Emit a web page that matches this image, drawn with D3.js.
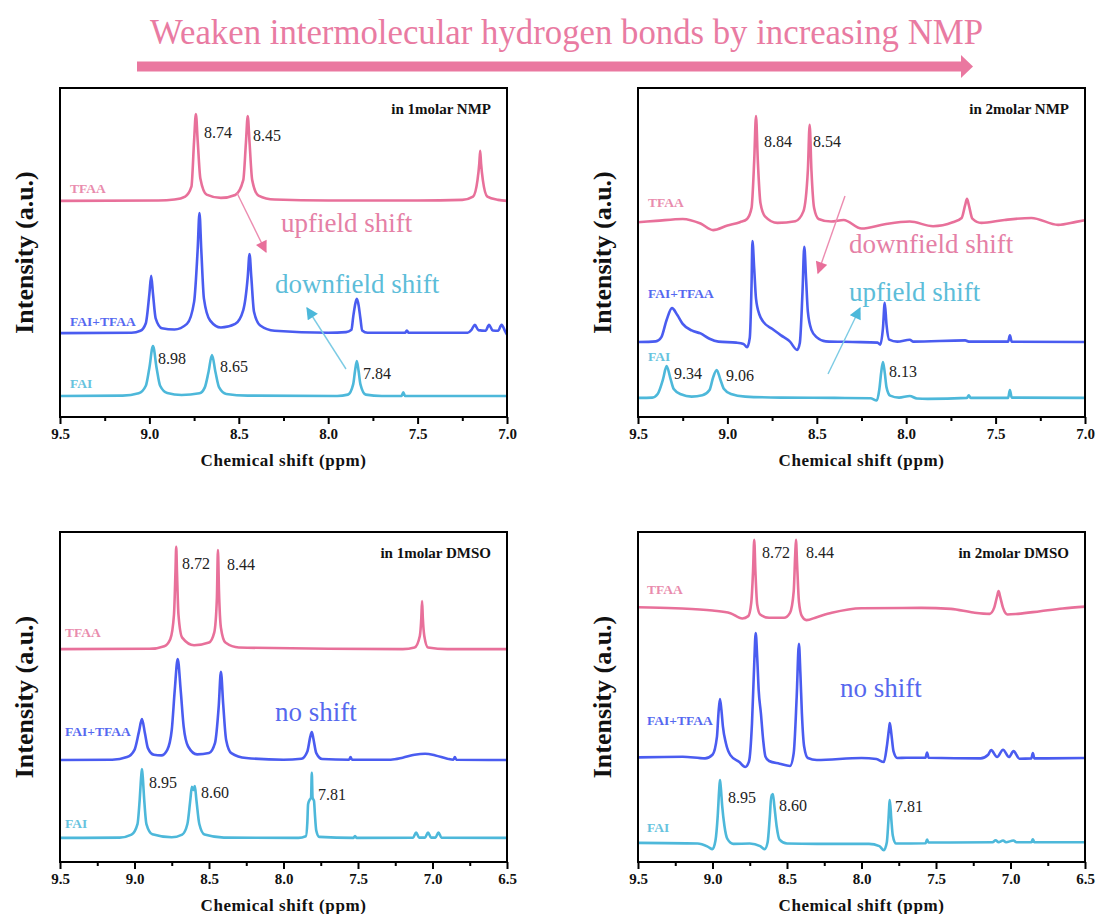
<!DOCTYPE html>
<html>
<head>
<meta charset="utf-8">
<script src="https://cdn.jsdelivr.net/npm/d3@7"></script>
<style>
  body { margin: 0; background: #fff; }
  svg { display: block; }
  text { font-family: "Liberation Serif", "Times New Roman", serif; }
</style>
</head>
<body>
<svg id="fig" width="1097" height="914"></svg>
<script>
// ---- data (ppm, intensity a.u. incl. stacking offset) ----
var seriesNames = ['TFAA', 'FAI+TFAA', 'FAI'];
var panelTitles = ['in 1molar NMP', 'in 2molar NMP', 'in 1molar DMSO', 'in 2molar DMSO'];
var titleText = 'Weaken intermolecular hydrogen bonds by increasing NMP';

var ticksNMP = [9.5, 9.0, 8.5, 8.0, 7.5, 7.0];
var minorNMP = [9.25, 8.75, 8.25, 7.75, 7.25];
var ticksDMSO = [9.5, 9.0, 8.5, 8.0, 7.5, 7.0, 6.5];
var minorDMSO = [9.25, 8.75, 8.25, 7.75, 7.25, 6.75];

// 1 molar NMP
var nmp1TFAA = [[9.5,65.7],[8.95,65.8],[8.86,66.1],[8.80,67.0],[8.765,70.0],[8.75,84.0],[8.74,92.1],[8.73,84.0],[8.715,72.5],[8.68,67.6],[8.60,66.6],[8.52,67.5],[8.475,72.0],[8.46,83.5],[8.45,91.5],[8.44,83.5],[8.425,72.0],[8.39,67.3],[8.30,66.1],[8.0,65.8],[7.5,65.8],[7.25,66.0],[7.19,67.0],[7.165,72.0],[7.155,77.0],[7.15,80.9],[7.145,77.0],[7.135,72.0],[7.11,67.0],[7.05,66.0],[7.0,65.7]];
var nmp1Mix = [[9.5,25.5],[9.1,25.6],[9.05,26.2],[9.02,28.5],[9.0,37.5],[8.99,42.9],[8.98,37.5],[8.965,30.0],[8.93,27.0],[8.86,26.6],[8.79,28.3],[8.75,35.0],[8.73,51.0],[8.72,62.0],[8.71,51.0],[8.695,36.0],[8.66,29.3],[8.60,27.2],[8.52,28.3],[8.475,32.5],[8.45,42.5],[8.44,49.5],[8.43,42.5],[8.415,32.0],[8.38,27.8],[8.30,26.2],[8.0,25.6],[7.9,25.8],[7.87,26.5],[7.86,30.5],[7.85,34.0],[7.84,35.9],[7.83,34.0],[7.82,30.0],[7.81,26.3],[7.78,25.6],[7.57,25.6],[7.56,26.3],[7.55,25.6],[7.22,25.6],[7.20,26.4],[7.18,28.0],[7.16,26.4],[7.12,26.2],[7.10,28.0],[7.08,26.3],[7.05,26.2],[7.03,28.0],[7.01,26.0],[7.0,25.0]];
var nmp1FAI = [[9.5,6.4],[9.15,6.5],[9.06,7.2],[9.02,9.5],[9.0,15.0],[8.98,21.6],[8.96,15.0],[8.94,9.5],[8.9,7.3],[8.82,6.7],[8.72,7.2],[8.69,9.0],[8.67,13.5],[8.65,18.8],[8.63,13.5],[8.61,9.0],[8.57,7.0],[8.45,6.5],[7.95,6.4],[7.89,6.8],[7.86,10.0],[7.85,14.0],[7.84,17.0],[7.83,14.0],[7.82,10.0],[7.79,6.8],[7.7,6.4],[7.59,6.4],[7.58,7.5],[7.57,6.4],[7.0,6.4]];

// 2 molar NMP
var nmp2TFAA = [[9.5,59.2],[9.4,59.6],[9.25,60.2],[9.15,58.8],[9.08,56.8],[9.0,58.2],[8.93,59.2],[8.89,60.2],[8.865,63.5],[8.85,78],[8.84,91.5],[8.83,78],[8.815,65],[8.79,61],[8.72,59.0],[8.62,59.5],[8.575,62.5],[8.55,75],[8.54,88.8],[8.53,75],[8.515,63.5],[8.49,60.2],[8.42,59.4],[8.35,59.9],[8.25,57.3],[8.12,58.6],[7.98,59.4],[7.85,58.0],[7.74,59.2],[7.69,60.5],[7.67,64.5],[7.66,66.3],[7.65,64.5],[7.63,60.3],[7.58,59.0],[7.45,59.9],[7.30,60.5],[7.15,58.4],[7.05,59.3],[7.0,59.8]];
var nmp2Mix = [[9.5,22.8],[9.40,23.0],[9.37,24.2],[9.34,29.5],[9.31,33.1],[9.28,31.0],[9.25,28.3],[9.20,26.3],[9.15,25.4],[9.10,23.8],[9.05,22.9],[8.95,22.6],[8.91,22.2],[8.89,21.2],[8.875,24],[8.865,40],[8.86,53.5],[8.85,45],[8.84,36],[8.82,31],[8.80,29],[8.75,26.8],[8.70,24.8],[8.65,22.9],[8.61,20.4],[8.595,22.5],[8.58,38],[8.57,51.7],[8.56,42],[8.55,32],[8.53,26.5],[8.50,24.2],[8.45,23.0],[8.30,22.8],[8.16,22.6],[8.145,22.0],[8.13,27],[8.12,34.7],[8.11,28],[8.095,23.5],[8.05,22.9],[7.98,23.5],[7.96,22.9],[7.67,23.3],[7.65,22.9],[7.43,22.9],[7.42,24.8],[7.41,22.9],[7.0,22.8]];
var nmp2FAI = [[9.5,5.8],[9.42,5.9],[9.39,7.0],[9.36,11.5],[9.34,15.5],[9.32,12.0],[9.30,8.5],[9.26,6.9],[9.2,6.2],[9.14,6.6],[9.10,8.2],[9.08,12.0],[9.06,14.3],[9.04,11.5],[9.02,8.6],[8.98,7.0],[8.9,6.2],[8.7,5.9],[8.4,5.8],[8.2,5.7],[8.165,5.0],[8.15,8.5],[8.14,13.5],[8.13,16.7],[8.12,13.5],[8.11,9.0],[8.09,6.5],[8.04,5.9],[7.98,6.4],[7.94,5.6],[7.88,5.5],[7.66,5.8],[7.65,6.6],[7.64,5.8],[7.43,5.8],[7.42,8.2],[7.41,5.9],[7.0,5.8]];

// 1 molar DMSO
var dmso1TFAA = [[9.5,64.5],[8.9,64.6],[8.80,65.4],[8.76,67.5],[8.735,75],[8.725,88],[8.72,95.5],[8.715,88],[8.705,75],[8.68,68],[8.6,65.7],[8.5,66.5],[8.465,69.5],[8.447,80],[8.44,94.5],[8.433,82],[8.42,71],[8.39,66.5],[8.30,65.0],[7.2,64.5],[7.12,65.0],[7.085,68.5],[7.075,74],[7.07,79.1],[7.065,74],[7.055,68.5],[7.03,65.0],[6.9,64.5],[6.5,64.5]];
var dmso1Mix = [[9.5,30.9],[9.15,31.0],[9.05,31.8],[9.0,34.0],[8.97,39.5],[8.95,43.3],[8.93,39.0],[8.91,34.5],[8.87,32.5],[8.82,32.3],[8.78,34.0],[8.75,40.0],[8.73,52.0],[8.71,61.5],[8.69,52.0],[8.67,41.0],[8.64,35.0],[8.58,32.6],[8.5,33.0],[8.46,36.0],[8.435,47.0],[8.42,57.6],[8.405,48.0],[8.385,37.0],[8.35,33.0],[8.25,31.5],[8.0,31.0],[7.88,31.3],[7.84,33.5],[7.82,38.0],[7.81,39.4],[7.80,37.5],[7.78,33.0],[7.74,31.2],[7.56,31.0],[7.55,31.8],[7.54,31.0],[7.28,31.0],[7.2,31.6],[7.12,32.5],[7.05,32.8],[6.98,32.3],[6.9,31.3],[6.86,31.0],[6.85,31.8],[6.84,31.0],[6.5,30.9]];
var dmso1FAI = [[9.5,7.3],[9.1,7.4],[9.02,8.3],[8.98,11.5],[8.965,19.0],[8.955,26.0],[8.95,28.2],[8.945,26.0],[8.935,19.0],[8.92,11.5],[8.88,8.4],[8.75,7.5],[8.68,8.3],[8.645,11.5],[8.625,19.0],[8.615,22.8],[8.605,21.8],[8.595,23.0],[8.585,19.0],[8.565,11.5],[8.53,8.3],[8.4,7.4],[7.9,7.3],[7.85,7.8],[7.84,12.0],[7.835,17.5],[7.825,18.8],[7.815,19.5],[7.81,27.0],[7.805,19.5],[7.795,18.5],[7.79,15.0],[7.78,9.5],[7.76,7.6],[7.53,7.3],[7.52,7.9],[7.51,7.3],[7.13,7.4],[7.11,8.9],[7.09,7.4],[7.05,7.4],[7.03,8.9],[7.01,7.4],[6.98,7.4],[6.96,8.9],[6.94,7.4],[6.5,7.3]];

// 2 molar DMSO
var dmso2TFAA = [[9.5,77.2],[9.25,76.9],[9.0,76.2],[8.88,75.4],[8.80,73.8],[8.76,74.5],[8.74,78.5],[8.728,88],[8.72,97.6],[8.712,88],[8.70,78],[8.68,75.0],[8.62,74.0],[8.52,74.0],[8.48,75.5],[8.455,82],[8.445,93],[8.44,97.6],[8.432,90],[8.42,79],[8.40,74.5],[8.37,73.3],[8.3,74.2],[8.2,75.5],[8.0,76.9],[7.6,77.0],[7.4,76.7],[7.25,75.6],[7.14,75.2],[7.11,77.0],[7.09,80.5],[7.08,82.1],[7.07,80.5],[7.05,77.0],[7.02,75.0],[6.95,75.2],[6.8,76.0],[6.65,76.8],[6.5,77.4]];
var dmso2Mix = [[9.5,31.7],[9.2,31.9],[9.05,31.4],[9.0,32.5],[8.97,38],[8.96,45],[8.95,49.4],[8.94,46],[8.93,41],[8.91,36],[8.88,32.4],[8.82,30.3],[8.78,28.8],[8.755,30.5],[8.735,42],[8.72,60],[8.71,69.4],[8.70,62],[8.69,52],[8.675,45],[8.66,37],[8.645,32],[8.62,30.6],[8.55,29.8],[8.48,29.1],[8.455,33],[8.435,50],[8.42,66.1],[8.41,57],[8.40,45],[8.385,35],[8.36,31.5],[8.3,30.9],[8.0,31.5],[7.9,31.2],[7.85,30.3],[7.83,35],[7.815,40.5],[7.81,42.1],[7.80,39],[7.785,33.5],[7.76,31.5],[7.7,31.6],[7.57,31.6],[7.56,33.2],[7.55,31.6],[7.2,31.4],[7.15,32.5],[7.13,33.9],[7.09,31.8],[7.05,34.0],[7.01,31.8],[6.98,33.6],[6.94,31.3],[6.86,31.4],[6.85,33.0],[6.84,31.4],[6.5,31.5]];
var dmso2FAI = [[9.5,5.8],[9.1,5.6],[9.03,4.6],[9.0,3.9],[8.98,6.5],[8.965,14],[8.955,22],[8.95,24.8],[8.945,23],[8.935,17],[8.92,11],[8.90,7.0],[8.86,5.5],[8.75,5.6],[8.68,4.8],[8.65,3.9],[8.63,6.0],[8.615,14],[8.605,20.3],[8.60,20.0],[8.595,20.6],[8.585,17],[8.57,11],[8.55,6.8],[8.5,5.6],[8.3,5.5],[7.95,5.5],[7.88,4.8],[7.85,3.6],[7.83,6.0],[7.82,12],[7.81,18.8],[7.80,13],[7.79,8.0],[7.77,5.6],[7.57,5.7],[7.56,6.8],[7.55,5.9],[7.12,6.0],[7.10,6.6],[7.08,6.0],[7.05,6.5],[7.03,6.0],[6.98,6.5],[6.96,6.0],[6.86,6.0],[6.85,6.9],[6.84,6.0],[6.5,6.0]];

// peak labels: text, anchor ppm, anchor intensity
var nmp1Labels = [['8.74',8.695,84.7],['8.45',8.42,84.0],['8.98',8.952,16.0],['8.65',8.605,13.8],['7.84',7.805,11.7]];
var nmp2Labels = [['8.84',8.795,82.2],['8.54',8.521,82.2],['9.34',9.299,11.4],['9.06',9.008,10.9],['8.13',8.096,12.3]];
var dmso1Labels = [['8.72',8.681,88.9],['8.44',8.379,88.6],['8.95',8.903,22.3],['8.60',8.554,19.5],['7.81',7.768,18.9]];
var dmso2Labels = [['8.72',8.668,92.0],['8.44',8.372,92.0],['8.95',8.896,18.0],['8.60',8.554,15.6],['7.81',7.775,15.3]];

// ---- layout ----
var colors = ['#e8709a', '#4a5cf0', '#4db8da'];
var labelColors = ['#e98cad', '#5668f0', '#66c3de'];
var pink = '#ea78a0';

var panels = [
  {left: 60,  top: 88,  width: 447, height: 329, domain: [9.5, 7.0], ticks: ticksNMP,  minor: minorNMP,  series: [nmp1TFAA, nmp1Mix, nmp1FAI],  labels: nmp1Labels,
   seriesY: [193, 326, 388], seriesX: 70},
  {left: 638, top: 88,  width: 447, height: 329, domain: [9.5, 7.0], ticks: ticksNMP,  minor: minorNMP,  series: [nmp2TFAA, nmp2Mix, nmp2FAI],  labels: nmp2Labels,
   seriesY: [207, 298, 361], seriesX: 648},
  {left: 60,  top: 532, width: 447, height: 330, domain: [9.5, 6.5], ticks: ticksDMSO, minor: minorDMSO, series: [dmso1TFAA, dmso1Mix, dmso1FAI], labels: dmso1Labels,
   seriesY: [637, 736, 828], seriesX: 65},
  {left: 638, top: 532, width: 447, height: 330, domain: [9.5, 6.5], ticks: ticksDMSO, minor: minorDMSO, series: [dmso2TFAA, dmso2Mix, dmso2FAI], labels: dmso2Labels,
   seriesY: [594, 725, 832], seriesX: 647}
];

var svg = d3.select('#fig');

// arrow heads
var defs = svg.append('defs');
[['headPink', '#e86f9a'], ['headCyan', '#4cb8da']].forEach(function(m) {
  defs.append('marker')
    .attr('id', m[0])
    .attr('viewBox', '0 0 10 10')
    .attr('refX', 9).attr('refY', 5)
    .attr('markerUnits', 'userSpaceOnUse')
    .attr('markerWidth', 13).attr('markerHeight', 12)
    .attr('orient', 'auto')
    .append('path')
    .attr('d', 'M0,0 L10,5 L0,10 Z')
    .attr('fill', m[1]);
});

// Title and big arrow
svg.append('text')
  .attr('x', 150).attr('y', 44)
  .attr('textLength', 833).attr('lengthAdjust', 'spacingAndGlyphs')
  .style('font-size', '36px')
  .attr('fill', '#e97ba2')
  .text(titleText);

svg.append('rect')
  .attr('x', 137).attr('y', 61.5)
  .attr('width', 826).attr('height', 10)
  .attr('fill', pink);
svg.append('path')
  .attr('d', 'M961,55 L973,66.5 L961,78 Z')
  .attr('fill', pink);

panels.forEach(function(p, pi) {
  var g = svg.append('g').attr('transform', 'translate(' + p.left + ',' + p.top + ')');

  var x = d3.scaleLinear().domain(p.domain).range([0, p.width]);
  var y = d3.scaleLinear().domain([0, 100]).range([p.height, 0]);

  var line = d3.line()
    .x(function(d) { return x(d[0]); })
    .y(function(d) { return y(d[1]); })
    .curve(d3.curveMonotoneX);

  // spectra
  p.series.forEach(function(s, i) {
    g.append('path')
      .datum(s)
      .attr('fill', 'none')
      .attr('stroke', colors[i])
      .attr('stroke-width', 2.6)
      .attr('stroke-linejoin', 'round')
      .attr('d', line);
  });

  // frame
  g.append('rect')
    .attr('width', p.width).attr('height', p.height)
    .attr('fill', 'none')
    .attr('stroke', '#000')
    .attr('stroke-width', 2);

  // x axis
  var ax = g.append('g')
    .attr('transform', 'translate(0,' + p.height + ')')
    .call(d3.axisBottom(x).tickValues(p.ticks).tickFormat(d3.format('.1f')).tickSize(7).tickPadding(4));
  ax.select('.domain').remove();
  ax.selectAll('line').attr('stroke-width', 2);
  ax.selectAll('text')
    .style('font-family', '"Liberation Serif", serif')
    .style('font-weight', 'bold')
    .style('font-size', '15px')
    .attr('fill', '#111');

  var mx = g.append('g')
    .attr('transform', 'translate(0,' + p.height + ')')
    .call(d3.axisBottom(x).tickValues(p.minor).tickFormat('').tickSize(4));
  mx.select('.domain').remove();
  mx.selectAll('line').attr('stroke-width', 2);

  g.append('text')
    .attr('x', p.width / 2).attr('y', p.height + 49)
    .attr('text-anchor', 'middle')
    .style('font-size', '17px')
    .style('font-weight', 'bold')
    .style('letter-spacing', '0.6px')
    .attr('fill', '#111')
    .text('Chemical shift (ppm)');

  // y label
  g.append('text')
    .attr('transform', 'translate(' + (-27) + ',' + (p.height / 2) + ') rotate(-90)')
    .attr('text-anchor', 'middle')
    .style('font-size', '26px')
    .style('font-weight', 'bold')
    .attr('fill', '#111')
    .text('Intensity (a.u.)');

  // panel title
  g.append('text')
    .attr('x', p.width - 16).attr('y', 26)
    .attr('text-anchor', 'end')
    .style('font-size', '15px')
    .style('font-weight', 'bold')
    .attr('fill', '#111')
    .text(panelTitles[pi]);

  // series labels
  seriesNames.forEach(function(n, i) {
    svg.append('text')
      .attr('x', p.seriesX).attr('y', p.seriesY[i])
      .style('font-size', '13.5px')
      .style('font-weight', 'bold')
      .attr('fill', labelColors[i])
      .text(n);
  });

  // peak labels
  g.selectAll('text.peak')
    .data(p.labels)
    .enter().append('text')
    .attr('class', 'peak')
    .attr('x', function(d) { return x(d[1]); })
    .attr('y', function(d) { return y(d[2]); })
    .style('font-size', '16px')
    .attr('fill', '#222')
    .text(function(d) { return d[0]; });
});

// shift annotations
function shiftText(tx, ty, txt, col) {
  svg.append('text')
    .attr('x', tx).attr('y', ty)
    .style('font-size', '27px')
    .attr('fill', col)
    .text(txt);
}
function shiftArrow(x1, y1, x2, y2, marker, col) {
  svg.append('line')
    .attr('x1', x1).attr('y1', y1).attr('x2', x2).attr('y2', y2)
    .attr('stroke', col).attr('stroke-width', 1.4)
    .attr('marker-end', 'url(#' + marker + ')');
}

shiftText(281, 232, 'upfield shift', '#e580a6');
shiftText(275, 293, 'downfield shift', '#5cbdd9');
shiftArrow(237, 193, 266, 252, 'headPink', '#ec8cb0');
shiftArrow(346, 369, 307, 308, 'headCyan', '#7ccbe4');

shiftText(849, 253, 'downfield shift', '#e580a6');
shiftText(849, 301, 'upfield shift', '#5cbdd9');
shiftArrow(845, 196, 818, 273, 'headPink', '#ec8cb0');
shiftArrow(828, 374, 860, 308, 'headCyan', '#7ccbe4');

shiftText(275, 721, 'no shift', '#5668ee');
shiftText(840, 697, 'no shift', '#5668ee');
</script>
</body>
</html>
